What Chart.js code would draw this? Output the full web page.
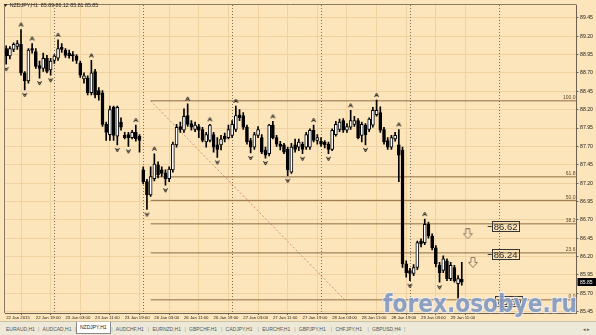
<!DOCTYPE html>
<html>
<head>
<meta charset="utf-8">
<script src="https://cdn.jsdelivr.net/npm/chart.js@4.4.1/dist/chart.umd.min.js"></script>
<style>
    html, body { margin: 0; padding: 0; background: #fde5bb; overflow: hidden; }
    #wrap { position: relative; width: 596px; height: 321px; }
    #tabs { position: absolute; left: 0; top: 321px; width: 596px; height: 14px; background: #ece9d8;
            border-top: 1px solid #c8c2ac; font: 5px "Liberation Sans", Arial, sans-serif; color: #555; }
    #tabs span { position: absolute; top: 4px; white-space: nowrap; }
    #tabs span.sep { color: #999; }
    #tabs span.on { top: 0; height: 11px; line-height: 11px; padding: 0 3px; background: #fff; border: 1px solid #8a8a8a; border-top: none; color: #222; }
</style>
</head>
<body>
<div id="wrap"><canvas id="grafico" width="596" height="321"></canvas></div>
<div id="tabs"></div>

<script>
// ---- DADOS ----
const open = [
    89.03, 88.93, 89.02, 89.06, 89.09, 88.70, 88.59, 89.03, 88.99, 88.80,
    88.76, 88.90, 88.74, 88.87, 88.90, 89.05, 89.01, 88.97, 88.95, 88.93,
    88.83, 88.62, 88.63, 88.43, 88.72, 88.46, 88.43, 88.00, 87.86, 88.23,
    87.84, 88.03, 87.85, 87.86, 87.82, 87.89, 87.84, 87.38, 87.22, 87.04,
    87.26, 87.45, 87.38, 87.34, 87.26, 87.38, 87.72, 87.97, 87.92, 88.12,
    88.01, 87.93, 87.97, 87.93, 87.76, 87.78, 87.86, 87.72, 87.72, 87.84,
    87.82, 87.85, 87.93, 88.13, 88.12, 87.96, 87.78, 87.69, 87.85, 87.82,
    87.65, 87.60, 87.99, 87.82, 87.73, 87.72, 87.66, 87.35, 87.72, 87.69,
    87.73, 87.69, 87.69, 87.92, 87.78, 87.77, 87.76, 87.73, 87.66, 87.86,
    87.93, 88.05, 87.92, 87.96, 88.00, 88.05, 87.85, 87.99, 87.93, 87.99,
    88.13, 88.16, 87.93, 87.78, 87.69, 87.80, 87.72, 87.65, 86.10, 86.01,
    85.97, 86.05, 86.41, 86.39, 86.64, 86.48, 86.32, 86.08, 86.01, 86.14,
    85.90, 86.05, 85.83, 85.89
];
const high = [
    89.07, 89.06, 89.11, 89.14, 89.29, 88.72, 89.03, 89.10, 89.03, 88.86,
    88.97, 88.94, 88.90, 88.95, 89.15, 89.10, 89.03, 89.01, 88.99, 88.95,
    88.86, 88.70, 88.66, 88.87, 88.75, 88.50, 88.46, 88.03, 88.25, 88.25,
    88.25, 88.09, 87.89, 87.89, 87.92, 87.99, 87.86, 87.42, 87.25, 87.42,
    87.60, 87.49, 87.42, 87.38, 87.42, 87.76, 88.00, 88.03, 88.21, 88.28,
    88.05, 88.03, 88.00, 87.96, 87.89, 88.00, 87.89, 87.82, 87.85, 87.88,
    87.99, 88.05, 88.25, 88.20, 88.16, 87.99, 87.81, 87.89, 87.97, 87.86,
    87.69, 88.00, 88.04, 87.85, 87.77, 87.74, 87.69, 87.74, 87.80, 87.80,
    87.76, 87.89, 87.94, 87.99, 87.86, 87.82, 87.78, 87.76, 87.94, 88.04,
    88.07, 88.08, 88.01, 88.19, 88.11, 88.08, 88.03, 88.01, 88.09, 88.23,
    88.33, 88.24, 87.96, 87.82, 87.85, 87.89, 87.93, 87.69, 86.14, 86.04,
    86.09, 86.41, 86.44, 86.71, 86.67, 86.51, 86.35, 86.12, 86.21, 86.17,
    86.12, 86.08, 85.94, 86.12
];
const low = [
    88.82, 88.89, 88.99, 89.02, 88.67, 88.47, 88.56, 88.97, 88.76, 88.63,
    88.72, 88.70, 88.67, 88.83, 88.87, 88.98, 88.91, 88.90, 88.86, 88.83,
    88.64, 88.56, 88.40, 88.40, 88.36, 88.33, 87.97, 87.78, 87.78, 87.78,
    87.72, 87.92, 87.80, 87.70, 87.80, 87.77, 87.62, 87.19, 86.84, 87.02,
    87.23, 87.27, 87.29, 87.17, 87.22, 87.35, 87.69, 87.89, 87.89, 87.97,
    87.92, 87.90, 87.82, 87.76, 87.69, 87.76, 87.62, 87.55, 87.65, 87.76,
    87.80, 87.82, 87.90, 88.05, 87.93, 87.73, 87.61, 87.66, 87.82, 87.60,
    87.54, 87.57, 87.80, 87.70, 87.65, 87.60, 87.30, 87.33, 87.62, 87.64,
    87.60, 87.66, 87.66, 87.76, 87.73, 87.70, 87.68, 87.60, 87.64, 87.84,
    87.90, 87.89, 87.89, 87.93, 87.97, 87.80, 87.76, 87.72, 87.90, 87.96,
    88.11, 87.89, 87.73, 87.66, 87.66, 87.77, 87.22, 86.05, 85.92, 85.87,
    85.94, 86.02, 86.33, 86.36, 86.45, 86.29, 86.06, 85.85, 85.98, 85.87,
    85.87, 85.85, 85.63, 85.81
];
const close = [
    88.93, 89.03, 89.09, 89.10, 88.70, 88.59, 89.01, 89.01, 88.79, 88.76,
    88.90, 88.72, 88.86, 88.93, 89.03, 89.02, 88.94, 88.93, 88.93, 88.87,
    88.67, 88.66, 88.43, 88.70, 88.40, 88.40, 88.00, 87.89, 88.20, 87.85,
    88.23, 87.96, 87.82, 87.82, 87.89, 87.80, 87.78, 87.22, 87.04, 87.29,
    87.46, 87.31, 87.33, 87.26, 87.39, 87.73, 87.96, 87.93, 88.11, 88.00,
    87.96, 87.99, 87.92, 87.78, 87.86, 87.99, 87.69, 87.66, 87.80, 87.80,
    87.93, 88.00, 88.12, 88.09, 87.96, 87.76, 87.69, 87.86, 87.93, 87.62,
    87.58, 87.99, 87.82, 87.73, 87.70, 87.62, 87.38, 87.69, 87.66, 87.76,
    87.66, 87.86, 87.92, 87.78, 87.82, 87.73, 87.72, 87.66, 87.92, 88.00,
    88.03, 87.92, 87.97, 88.05, 88.05, 87.82, 88.00, 87.86, 88.07, 88.19,
    88.19, 87.92, 87.76, 87.69, 87.82, 87.85, 87.58, 86.10, 85.98, 85.97,
    86.05, 86.39, 86.37, 86.64, 86.48, 86.32, 86.10, 85.98, 86.17, 85.90,
    86.08, 85.87, 85.90, 85.85
];

// eixo do tempo (indice da barra -> rotulo)
const timeTickIdx = [0, 8, 16, 24, 32, 40, 48, 56, 64, 72, 80, 88, 96, 104, 112, 120];
const timeLabels = ["22 Jan 2015", "22 Jan 19:00", "23 Jan 03:00", "23 Jan 11:00", "23 Jan 19:00",
    "26 Jan 03:00", "26 Jan 11:00", "26 Jan 19:00", "27 Jan 03:00", "27 Jan 11:00", "27 Jan 19:00",
    "28 Jan 03:00", "28 Jan 11:00", "28 Jan 19:00", "29 Jan 03:00", "29 Jan 11:00"];
const priceLabels = ["85.45", "85.70", "85.95", "86.20", "86.45", "86.70", "86.95", "87.20", "87.45",
    "87.70", "87.95", "88.20", "88.45", "88.70", "88.95", "89.20", "89.45"];
const dayStartIdx = [13, 37, 61, 85, 109, 133];

// fractais
const fractalUp = [4, 7, 14, 23, 35, 40, 49, 55, 62, 72, 83, 93, 100, 106, 113];
const fractalDown = [0, 5, 9, 12, 30, 33, 38, 43, 57, 66, 70, 76, 80, 87, 97, 109, 117];

// fibonacci
const fibLevels = [0, 23.6, 38.2, 50, 61.8, 100];
const fibHigh = 88.32, fibLow = 85.61;
const fibFromIdx = 39, fibToIdx = 91.4;

// objetos de texto e setas
const tagText = ["86.62", "86.24", "85.59"];
const tagIdx = [130, 130, 131];
const sellIdx = [124.6, 126];
const sellPrice = [86.51, 86.12];

const tabNames = ["EURAUD,H1", "AUDCAD,H1", "NZDJPY,H1", "AUDCHF,H1", "EURNZD,H1", "GBPCHF,H1",
    "CADJPY,H1", "EURCHF,H1", "GBPJPY,H1", "CHFJPY,H1", "GBPUSD,H4"];
const activeTab = "NZDJPY,H1";

const symbolName = "NZDJPY,H1";
const watermark = "forex.osobye.ru";

// ---- ESTILO ----
const BG = "#fde5bb";
const GRID = "#f0d2a0";
const FONT = '"Liberation Sans", Arial, sans-serif';
const X_MIN = -0.32, X_MAX = 153.97;
const Y_MIN = 85.431, Y_MAX = 89.625;

// ---- ABAS ----
const tabs = document.getElementById("tabs");
tabNames.forEach((nome, i) => {
    const s = document.createElement("span");
    s.textContent = nome;
    s.style.left = (6 + i * 36.6) + "px";
    if (nome === activeTab) { s.className = "on"; s.style.left = (76 + (i - 2) * 36.6) + "px"; }
    tabs.appendChild(s);
    const sep = document.createElement("span");
    sep.className = "sep";
    sep.textContent = "|";
    sep.style.left = (38 + i * 36.6) + "px";
    tabs.appendChild(sep);
});
const setas = document.createElement("span");
setas.textContent = "◂ ▸";
setas.style.left = "583px";
tabs.appendChild(setas);

// ---- SIMBOLOS ----
function fractalImg(up) {
    const c = document.createElement("canvas");
    c.width = 7; c.height = 20;
    const g = c.getContext("2d");
    g.strokeStyle = "#1e1e1e";
    g.lineWidth = 1;
    g.beginPath();
    if (up) {
        g.moveTo(1.5, 7); g.lineTo(3.5, 3); g.lineTo(5.5, 7);
        g.moveTo(2.5, 5.5); g.lineTo(4.5, 5.5);
    } else {
        g.moveTo(1.5, 13); g.lineTo(3.5, 17); g.lineTo(5.5, 13);
        g.moveTo(2.5, 14.5); g.lineTo(4.5, 14.5);
    }
    g.stroke();
    return c;
}
function sellImg() {
    const c = document.createElement("canvas");
    c.width = 10; c.height = 11;
    const g = c.getContext("2d");
    g.beginPath();
    g.moveTo(3, 0.5); g.lineTo(7, 0.5); g.lineTo(7, 5.5); g.lineTo(9.5, 5.5);
    g.lineTo(5, 10.5); g.lineTo(0.5, 5.5); g.lineTo(3, 5.5); g.closePath();
    g.fillStyle = BG; g.fill();
    g.strokeStyle = "#8d7c64"; g.lineWidth = 1; g.stroke();
    return c;
}

const idx = open.map((_, i) => i);
const isBull = i => close[i] >= open[i];

const fibDatasets = fibLevels.map(p => ({
    type: "line",
    data: [{ x: fibFromIdx, y: fibLow + (fibHigh - fibLow) * p / 100 }, { x: X_MAX, y: fibLow + (fibHigh - fibLow) * p / 100 }],
    borderColor: "#8e6c44",
    borderWidth: 1,
    pointRadius: 0,
    order: 5,
    fibLabel: p.toFixed(1)
}));

// ---- PLUGIN MT4 ----
const mt4 = {
    id: "mt4",
    beforeDraw(chart) {
        const ctx = chart.ctx;
        ctx.save();
        ctx.fillStyle = BG;
        ctx.fillRect(0, 0, chart.width, chart.height);
        ctx.restore();
    },
    beforeDatasetsDraw(chart) {
        const { ctx, chartArea: a, scales: { x } } = chart;
        ctx.save();
        ctx.strokeStyle = "#7a6c58";
        ctx.lineWidth = 1;
        ctx.setLineDash([1, 2]);
        dayStartIdx.forEach(i => {
            const px = Math.round(x.getPixelForValue(i)) + 0.5;
            ctx.beginPath(); ctx.moveTo(px, a.top); ctx.lineTo(px, a.bottom); ctx.stroke();
        });
        ctx.restore();
    },
    afterDraw(chart) {
        const { ctx, chartArea: a, scales: { x, y } } = chart;
        const last = open.length - 1;
        ctx.save();

        // bordas
        ctx.strokeStyle = "#8a7a64";
        ctx.lineWidth = 1;
        ctx.beginPath();
        ctx.moveTo(a.left - 0.5, a.bottom); ctx.lineTo(a.left - 0.5, a.top - 0.5); ctx.lineTo(a.right, a.top - 0.5);
        ctx.stroke();

        // cabecalho
        ctx.fillStyle = "#222";
        ctx.font = "5.3px " + FONT;
        ctx.textBaseline = "middle";
        ctx.textAlign = "left";
        ctx.fillText(`▼ ${symbolName}  ${open[last].toFixed(2)} ${high[last].toFixed(2)} ${low[last].toFixed(2)} ${close[last].toFixed(2)}`, 3, 5.5);

        // rotulos fibo
        ctx.font = "5px " + FONT;
        ctx.textAlign = "right";
        ctx.textBaseline = "bottom";
        ctx.fillStyle = "#5a4630";
        chart.data.datasets.forEach(ds => {
            if (!ds.fibLabel) return;
            ctx.fillText(ds.fibLabel, a.right - 1, y.getPixelForValue(ds.data[0].y) - 0.5);
        });

        // textos com caixa
        ctx.font = "9.5px " + FONT;
        ctx.textAlign = "left";
        ctx.textBaseline = "middle";
        tagText.forEach((t, k) => {
            const px = x.getPixelForValue(tagIdx[k]);
            const py = Math.round(y.getPixelForValue(parseFloat(t))) + 0.5;
            const w = ctx.measureText(t).width;
            ctx.strokeStyle = "#333";
            ctx.beginPath(); ctx.moveTo(px, py); ctx.lineTo(px + 4, py); ctx.stroke();
            ctx.strokeRect(Math.round(px + 4) + 0.5, py - 5, Math.round(w) + 3, 10);
            ctx.fillStyle = "#2a2a2a";
            ctx.fillText(t, px + 6, py + 0.5);
        });

        // preco atual
        const cy = Math.round(y.getPixelForValue(close[last]));
        ctx.fillStyle = "#000";
        ctx.fillRect(a.right + 1, cy - 4, chart.width - a.right - 1, 8);
        ctx.fillStyle = "#fff";
        ctx.font = "5px " + FONT;
        ctx.fillText(close[last].toFixed(2), a.right + 3.5, cy + 0.5);

        // marca d'agua
        ctx.font = 'bold 25px "DejaVu Sans", sans-serif';
        ctx.textBaseline = "alphabetic";
        const ww = ctx.measureText(watermark).width;
        ctx.translate(383, 311.5);
        ctx.scale(194 / ww, 1);
        ctx.lineJoin = "round";
        ctx.lineWidth = 2.5;
        ctx.strokeStyle = "rgba(236,240,248,0.7)";
        ctx.strokeText(watermark, 0, 0);
        ctx.fillStyle = "rgba(128,150,190,0.88)";
        ctx.fillText(watermark, 0, 0);
        ctx.restore();
    }
};

// ---- GRAFICO ----
const ctx = document.getElementById("grafico").getContext("2d");
new Chart(ctx, {
    type: "bar",
    data: {
        datasets: [
            {
                type: "bar",
                data: idx.map(i => ({ x: i, y: [low[i], high[i]] })),
                backgroundColor: "#000",
                borderWidth: 0,
                barThickness: 1,
                grouped: false,
                order: 3
            },
            {
                type: "bar",
                data: idx.map(i => ({ x: i, y: [open[i], close[i]] })),
                backgroundColor: c => isBull(c.dataIndex) ? "#ffffff" : "#000000",
                borderColor: "#000",
                borderWidth: 1,
                borderSkipped: false,
                barThickness: 3,
                minBarLength: 1,
                grouped: false,
                order: 2
            },
            {
                type: "scatter",
                data: fractalUp.map(i => ({ x: i, y: high[i] })),
                pointStyle: fractalImg(true),
                order: 1
            },
            {
                type: "scatter",
                data: fractalDown.map(i => ({ x: i, y: low[i] })),
                pointStyle: fractalImg(false),
                order: 1
            },
            {
                type: "scatter",
                data: sellIdx.map((v, k) => ({ x: v, y: sellPrice[k] })),
                pointStyle: sellImg(),
                order: 1
            },
            ...fibDatasets,
            {
                type: "line",
                data: [{ x: fibFromIdx, y: fibHigh }, { x: fibToIdx, y: fibLow }],
                borderColor: "#d08f6f",
                borderWidth: 1,
                borderDash: [2, 2],
                pointRadius: 0,
                order: 6
            }
        ]
    },
    options: {
        responsive: false,
        animation: false,
        events: [],
        layout: { padding: { left: 1, top: 1, right: 0, bottom: 0 } },
        plugins: { legend: { display: false }, tooltip: { enabled: false } },
        scales: {
            x: {
                type: "linear",
                min: X_MIN,
                max: X_MAX,
                offset: false,
                afterBuildTicks: s => { s.ticks = timeTickIdx.map(v => ({ value: v })); },
                afterFit: s => { s.height = 8; },
                grid: { color: GRID, tickLength: 2, tickColor: "#6d6252" },
                border: { color: "#6d6252" },
                ticks: {
                    autoSkip: false, maxRotation: 0, minRotation: 0, align: "start", padding: 0.5,
                    color: "#222", font: { family: "Liberation Sans", size: 4.3 },
                    callback: (v, i) => timeLabels[i]
                }
            },
            y: {
                position: "right",
                min: Y_MIN,
                max: Y_MAX,
                afterBuildTicks: s => { s.ticks = priceLabels.map(v => ({ value: parseFloat(v) })); },
                afterFit: s => { s.width = 19.5; },
                grid: { color: GRID, tickLength: 2, tickColor: "#6d6252" },
                border: { color: "#6d6252" },
                ticks: {
                    autoSkip: false, padding: 1.5,
                    color: "#222", font: { family: "Liberation Sans", size: 5.2 },
                    callback: (v, i) => priceLabels[i]
                }
            }
        }
    },
    plugins: [mt4]
});
</script>
</body>
</html>
